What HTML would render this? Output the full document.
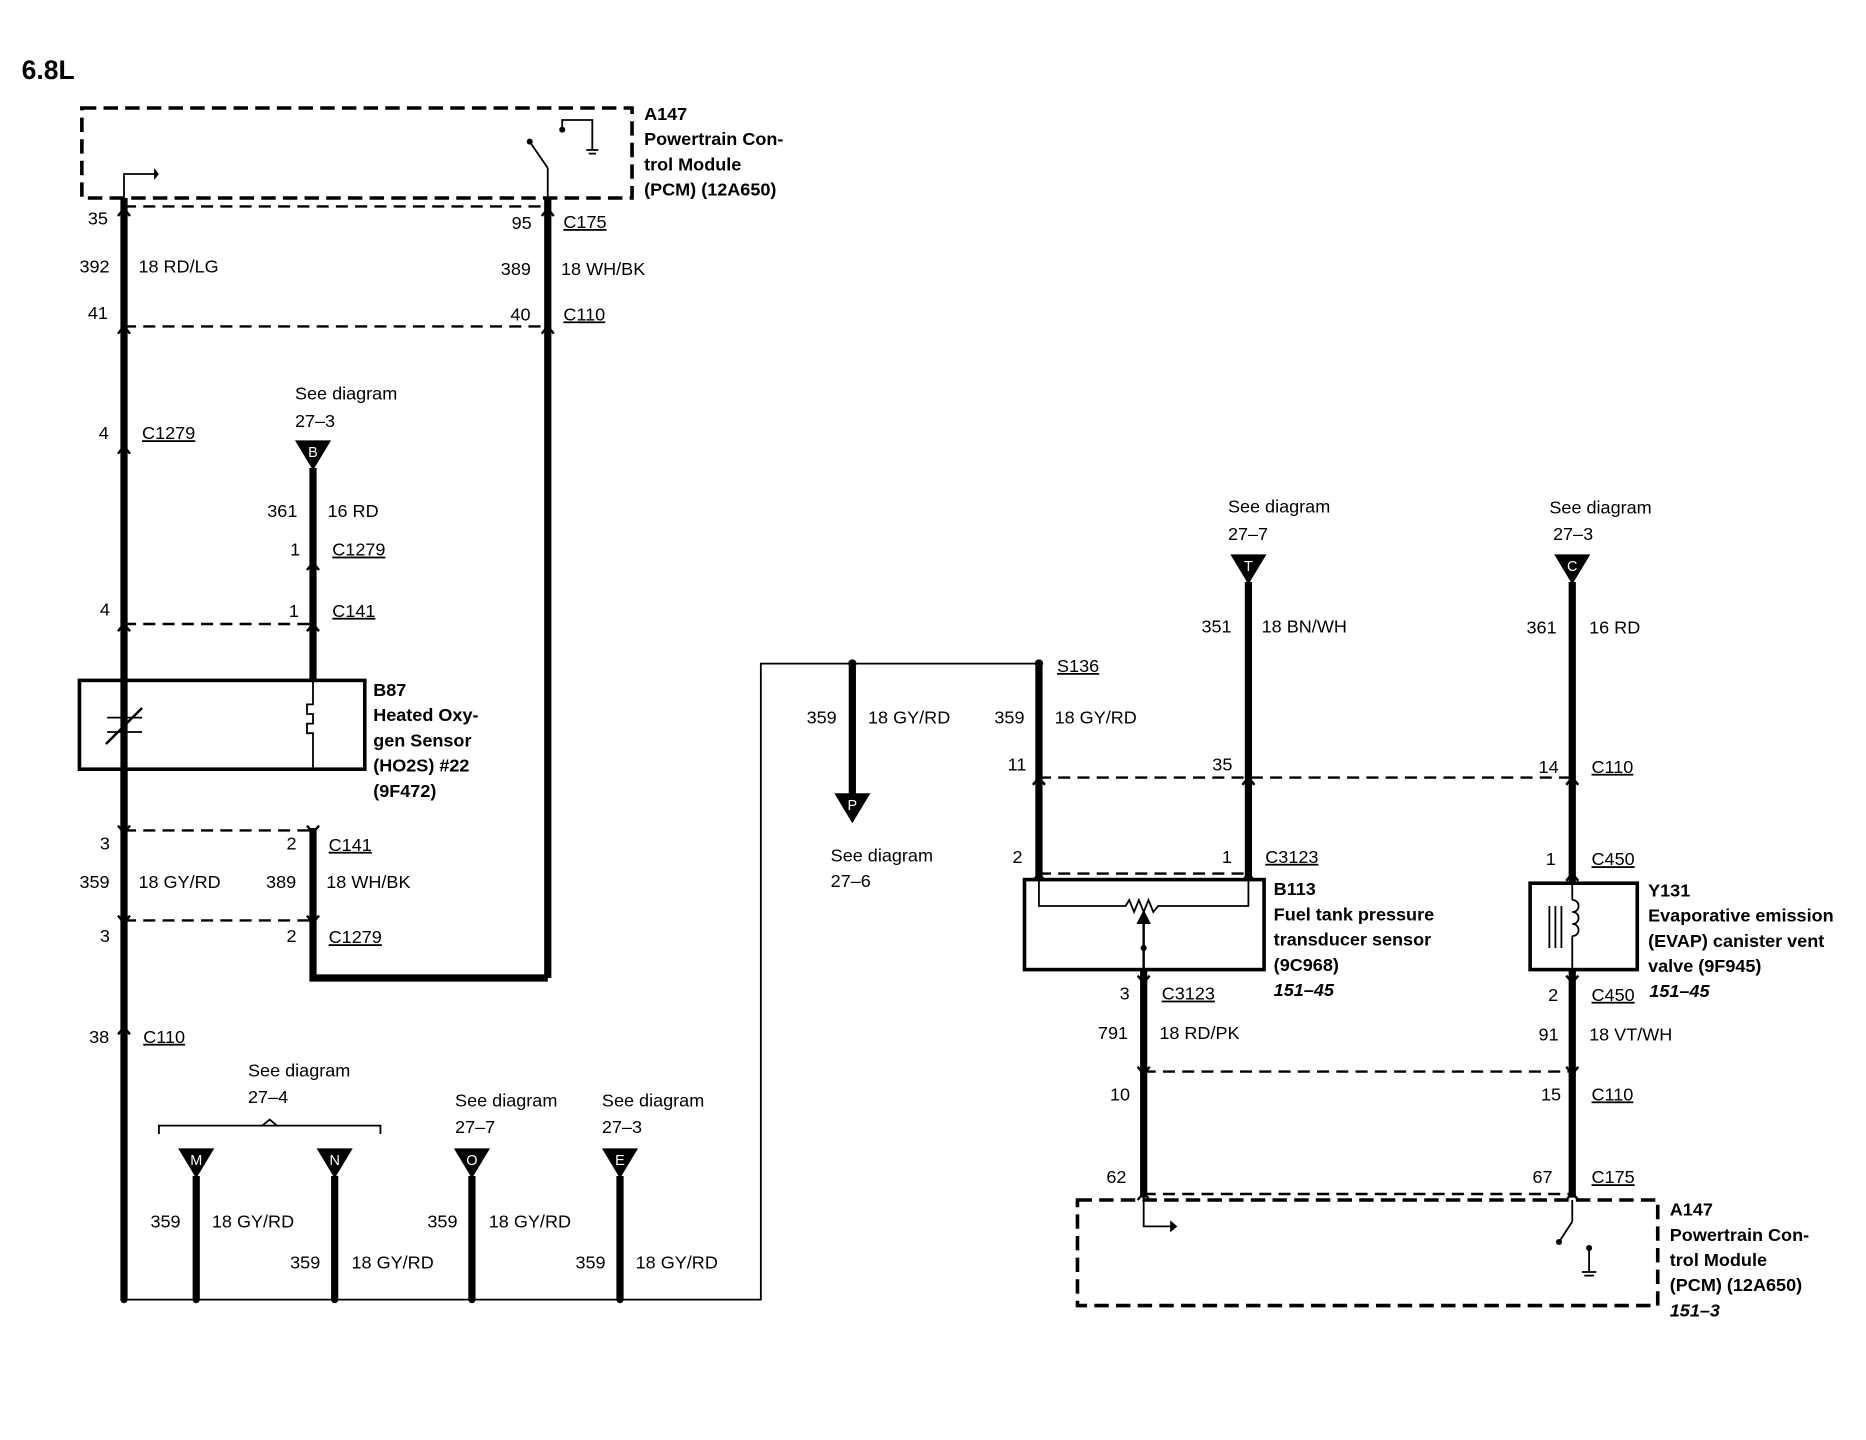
<!DOCTYPE html>
<html><head><meta charset="utf-8"><style>
html,body{margin:0;padding:0;background:#fff;}
svg{display:block;}
text{font-family:"Liberation Sans",sans-serif;font-size:15px;fill:#000;}
.b{font-weight:bold;}
.i{font-weight:bold;font-style:italic;}
</style></head><body>
<svg width="1866" height="1440" viewBox="0 0 1550 1200" preserveAspectRatio="none" xmlns="http://www.w3.org/2000/svg">
<g fill="none" stroke="#000">
<!-- PCM top box -->
<rect x="68" y="90" width="457" height="75" stroke-width="3" stroke-dasharray="12,6"/>
<!-- bottom PCM box -->
<rect x="895" y="1000" width="482" height="88" stroke-width="3" stroke-dasharray="12,6"/>
<!-- thick wires -->
<g stroke-width="6">
<line x1="103" y1="165" x2="103" y2="1083"/>
<line x1="455" y1="165" x2="455" y2="815"/>
<polyline points="260,690 260,815 455,815"/>
<line x1="260" y1="390" x2="260" y2="568"/>
<line x1="163" y1="980" x2="163" y2="1083"/>
<line x1="278" y1="980" x2="278" y2="1083"/>
<line x1="392" y1="980" x2="392" y2="1083"/>
<line x1="515" y1="980" x2="515" y2="1083"/>
<line x1="708" y1="555" x2="708" y2="662"/>
<line x1="863" y1="555" x2="863" y2="733"/>
<line x1="1037" y1="485" x2="1037" y2="733"/>
<line x1="1306" y1="485" x2="1306" y2="736"/>
<line x1="1306" y1="808" x2="1306" y2="998"/>
<line x1="950" y1="808" x2="950" y2="998"/>
<line x1="103" y1="641" x2="103" y2="690"/>
</g>
<!-- dashed connectors -->
<g stroke-width="2" stroke-dasharray="10,6">
<line x1="103" y1="172" x2="455" y2="172"/>
<line x1="103" y1="272" x2="455" y2="272"/>
<line x1="103" y1="520" x2="260" y2="520"/>
<line x1="103" y1="692" x2="260" y2="692"/>
<line x1="103" y1="767" x2="260" y2="767"/>
<line x1="863" y1="648" x2="1306" y2="648"/>
<line x1="863" y1="728" x2="1037" y2="728"/>
<line x1="950" y1="893" x2="1306" y2="893"/>
<line x1="950" y1="995" x2="1306" y2="995"/>
</g>
<!-- chevrons -->
<g stroke-width="2">
<path d="M98,180 L103,174 L108,180"/><path d="M450,180 L455,174 L460,180"/>
<path d="M98,278 L103,272 L108,278"/><path d="M450,278 L455,272 L460,278"/>
<path d="M98,378 L103,372 L108,378"/><path d="M255,475 L260,469 L265,475"/>
<path d="M98,526 L103,520 L108,526"/><path d="M255,526 L260,520 L265,526"/>
<path d="M98,688 L103,694 L108,688"/><path d="M255,688 L260,694 L265,688"/>
<path d="M98,763 L103,769 L108,763"/><path d="M255,763 L260,769 L265,763"/>
<path d="M98,862 L103,856 L108,862"/>
<path d="M858,654 L863,648 L868,654"/><path d="M1032,654 L1037,648 L1042,654"/><path d="M1301,654 L1306,648 L1311,654"/>
<path d="M858,734 L863,728 L868,734"/><path d="M1032,734 L1037,728 L1042,734"/><path d="M1301,734 L1306,728 L1311,734"/>
<path d="M945,813 L950,819 L955,813"/><path d="M1301,813 L1306,819 L1311,813"/>
<path d="M945,889 L950,895 L955,889"/><path d="M1301,889 L1306,895 L1311,889"/>
<path d="M945,1000 L950,994 L955,1000"/><path d="M1301,1000 L1306,994 L1311,1000"/>
</g>
<!-- thin lines -->
<g stroke-width="1.5">
<polyline points="103,1083 632,1083 632,553 863,553"/>
<polyline points="103,165 103,145 128,145"/>
<line x1="455" y1="165" x2="455" y2="140"/>
<line x1="455" y1="140" x2="440" y2="118"/>
<polyline points="467,108 467,100 492,100 492,125"/>
<line x1="487" y1="125" x2="497" y2="125"/><line x1="489" y1="128" x2="495" y2="128"/>
<polyline points="950,998 950,1022 975,1022"/>
<line x1="1306" y1="1000" x2="1306" y2="1018"/>
<line x1="1306" y1="1018" x2="1295" y2="1035"/>
<line x1="1320" y1="1040" x2="1320" y2="1060"/>
<line x1="1314" y1="1060" x2="1326" y2="1060"/><line x1="1316" y1="1063" x2="1324" y2="1063"/>
<polyline points="132,945 132,938 316,938 316,945"/>
<path d="M218,938 L224,933 L230,938"/>
</g>
<!-- B87 -->
<rect x="66" y="567" width="237" height="74" stroke-width="3"/>
<line x1="103" y1="567" x2="103" y2="641" stroke-width="1.5"/>
<line x1="89" y1="598" x2="118" y2="598" stroke-width="1.5"/><line x1="89" y1="610" x2="118" y2="610" stroke-width="1.5"/>
<line x1="88" y1="620" x2="118" y2="590" stroke-width="2"/>
<polyline points="260,567 260,587 255,587 255,595 260,595 260,603 255,603 255,611 260,611 260,641" stroke-width="1.5"/>
<!-- B113 -->
<rect x="851" y="733" width="199" height="75" stroke-width="3"/>
<polyline points="863,733 863,755 935,755 938,750 942,760 946,750 950,760 954,750 958,760 962,755 1037,755 1037,733" stroke-width="1.5"/>
<line x1="950" y1="808" x2="950" y2="768" stroke-width="2"/>
<!-- Y131 -->
<rect x="1271" y="736" width="89" height="72" stroke-width="3"/>
<line x1="1306" y1="736" x2="1306" y2="750" stroke-width="1.5"/>
<path d="M1306,750 c7,0 7,10 0,10 c7,0 7,10 0,10 c7,0 7,10 0,10" stroke-width="1.5"/>
<line x1="1306" y1="780" x2="1306" y2="808" stroke-width="1.5"/>
<line x1="1287" y1="755" x2="1287" y2="790" stroke-width="1.5"/><line x1="1292" y1="755" x2="1292" y2="790" stroke-width="1.5"/><line x1="1297" y1="755" x2="1297" y2="790" stroke-width="1.5"/>
</g>
<g fill="#000">
<polygon points="128,140 132,145 128,150"/>
<polygon points="972,1017 978,1022 972,1027" />
<circle cx="467" cy="108" r="2.5"/><circle cx="440" cy="118" r="2.5"/><circle cx="1295" cy="1035" r="2.5"/><circle cx="1320" cy="1040" r="2.5"/>
<circle cx="950" cy="765" r="2.5"/><circle cx="950" cy="790" r="2.5"/>
<circle cx="103" cy="1083" r="3"/><circle cx="163" cy="1083" r="3"/><circle cx="278" cy="1083" r="3"/><circle cx="392" cy="1083" r="3"/><circle cx="515" cy="1083" r="3"/>
<circle cx="708" cy="553" r="3.5"/><circle cx="863" cy="553" r="3.5"/>
<polygon points="245,367 275,367 260,392"/>
<polygon points="148,957 178,957 163,982"/>
<polygon points="263,957 293,957 278,982"/>
<polygon points="377,957 407,957 392,982"/>
<polygon points="500,957 530,957 515,982"/>
<polygon points="1022,462 1052,462 1037,487"/>
<polygon points="1291,462 1321,462 1306,487"/>
<polygon points="693,661 723,661 708,686"/>
<polygon points="944,770 950,758 956,770"/>
</g>
<g fill="#fff" style="font-size:12px" text-anchor="middle">
<text x="260" y="381" style="fill:#fff;font-size:12px">B</text>
<text x="163" y="971" style="fill:#fff;font-size:12px">M</text>
<text x="278" y="971" style="fill:#fff;font-size:12px">N</text>
<text x="392" y="971" style="fill:#fff;font-size:12px">O</text>
<text x="515" y="971" style="fill:#fff;font-size:12px">E</text>
<text x="1037" y="476" style="fill:#fff;font-size:12px">T</text>
<text x="1306" y="476" style="fill:#fff;font-size:12px">C</text>
<text x="708" y="675" style="fill:#fff;font-size:12px">P</text>
</g>
<text x="18" y="66" class="b" style="font-size:22px">6.8L</text>
<g class="b">
<text x="535" y="100" class="b">A147</text><text x="535" y="121" class="b">Powertrain Con-</text><text x="535" y="142" class="b">trol Module</text><text x="535" y="163" class="b">(PCM) (12A650)</text>
<text x="310" y="580" class="b">B87</text><text x="310" y="601" class="b">Heated Oxy-</text><text x="310" y="622" class="b">gen Sensor</text><text x="310" y="643" class="b">(HO2S) #22</text><text x="310" y="664" class="b">(9F472)</text>
<text x="1058" y="746" class="b">B113</text><text x="1058" y="767" class="b">Fuel tank pressure</text><text x="1058" y="788" class="b">transducer sensor</text><text x="1058" y="809" class="b">(9C968)</text><text x="1058" y="830" class="i">151–45</text>
<text x="1369" y="747" class="b">Y131</text><text x="1369" y="768" class="b">Evaporative emission</text><text x="1369" y="789" class="b">(EVAP) canister vent</text><text x="1369" y="810" class="b">valve (9F945)</text><text x="1370" y="831" class="i">151–45</text>
<text x="1387" y="1013" class="b">A147</text><text x="1387" y="1034" class="b">Powertrain Con-</text><text x="1387" y="1055" class="b">trol Module</text><text x="1387" y="1076" class="b">(PCM) (12A650)</text><text x="1387" y="1097" class="i">151–3</text>
</g>
<g>
<text x="73" y="187">35</text><text x="66" y="227">392</text><text x="115" y="227">18 RD/LG</text><text x="73" y="266">41</text>
<text x="425" y="191">95</text><text x="468" y="190" text-decoration="underline">C175</text><text x="416" y="229">389</text><text x="466" y="229">18 WH/BK</text><text x="424" y="267">40</text><text x="468" y="267" text-decoration="underline">C110</text>
<text x="82" y="366">4</text><text x="118" y="366" text-decoration="underline">C1279</text>
<text x="245" y="333">See diagram</text><text x="245" y="356">27–3</text>
<text x="222" y="431">361</text><text x="272" y="431">16 RD</text><text x="241" y="463">1</text><text x="276" y="463" text-decoration="underline">C1279</text>
<text x="83" y="513">4</text><text x="240" y="514">1</text><text x="276" y="514" text-decoration="underline">C141</text>
<text x="83" y="708">3</text><text x="238" y="708">2</text><text x="273" y="709" text-decoration="underline">C141</text>
<text x="66" y="740">359</text><text x="115" y="740">18 GY/RD</text><text x="221" y="740">389</text><text x="271" y="740">18 WH/BK</text>
<text x="83" y="785">3</text><text x="238" y="785">2</text><text x="273" y="786" text-decoration="underline">C1279</text>
<text x="74" y="869">38</text><text x="119" y="869" text-decoration="underline">C110</text>
<text x="206" y="897">See diagram</text><text x="206" y="919">27–4</text>
<text x="378" y="922">See diagram</text><text x="378" y="944">27–7</text>
<text x="500" y="922">See diagram</text><text x="500" y="944">27–3</text>
<text x="125" y="1023">359</text><text x="176" y="1023">18 GY/RD</text>
<text x="241" y="1057">359</text><text x="292" y="1057">18 GY/RD</text>
<text x="355" y="1023">359</text><text x="406" y="1023">18 GY/RD</text>
<text x="478" y="1057">359</text><text x="528" y="1057">18 GY/RD</text>
<text x="670" y="603">359</text><text x="721" y="603">18 GY/RD</text>
<text x="690" y="718">See diagram</text><text x="690" y="739">27–6</text>
<text x="878" y="560" text-decoration="underline">S136</text>
<text x="826" y="603">359</text><text x="876" y="603">18 GY/RD</text><text x="837" y="642">11</text>
<text x="1020" y="427">See diagram</text><text x="1020" y="450">27–7</text>
<text x="998" y="527">351</text><text x="1048" y="527">18 BN/WH</text><text x="1007" y="642">35</text>
<text x="1287" y="428">See diagram</text><text x="1290" y="450">27–3</text>
<text x="1268" y="528">361</text><text x="1320" y="528">16 RD</text><text x="1278" y="644">14</text><text x="1322" y="644" text-decoration="underline">C110</text>
<text x="841" y="719">2</text><text x="1015" y="719">1</text><text x="1051" y="719" text-decoration="underline">C3123</text>
<text x="1284" y="721">1</text><text x="1322" y="721" text-decoration="underline">C450</text>
<text x="930" y="833">3</text><text x="965" y="833" text-decoration="underline">C3123</text>
<text x="1286" y="834">2</text><text x="1322" y="834" text-decoration="underline">C450</text>
<text x="912" y="866">791</text><text x="963" y="866">18 RD/PK</text>
<text x="1278" y="867">91</text><text x="1320" y="867">18 VT/WH</text>
<text x="922" y="917">10</text><text x="1280" y="917">15</text><text x="1322" y="917" text-decoration="underline">C110</text>
<text x="919" y="986">62</text><text x="1273" y="986">67</text><text x="1322" y="986" text-decoration="underline">C175</text>
</g>
</svg>
</body></html>
